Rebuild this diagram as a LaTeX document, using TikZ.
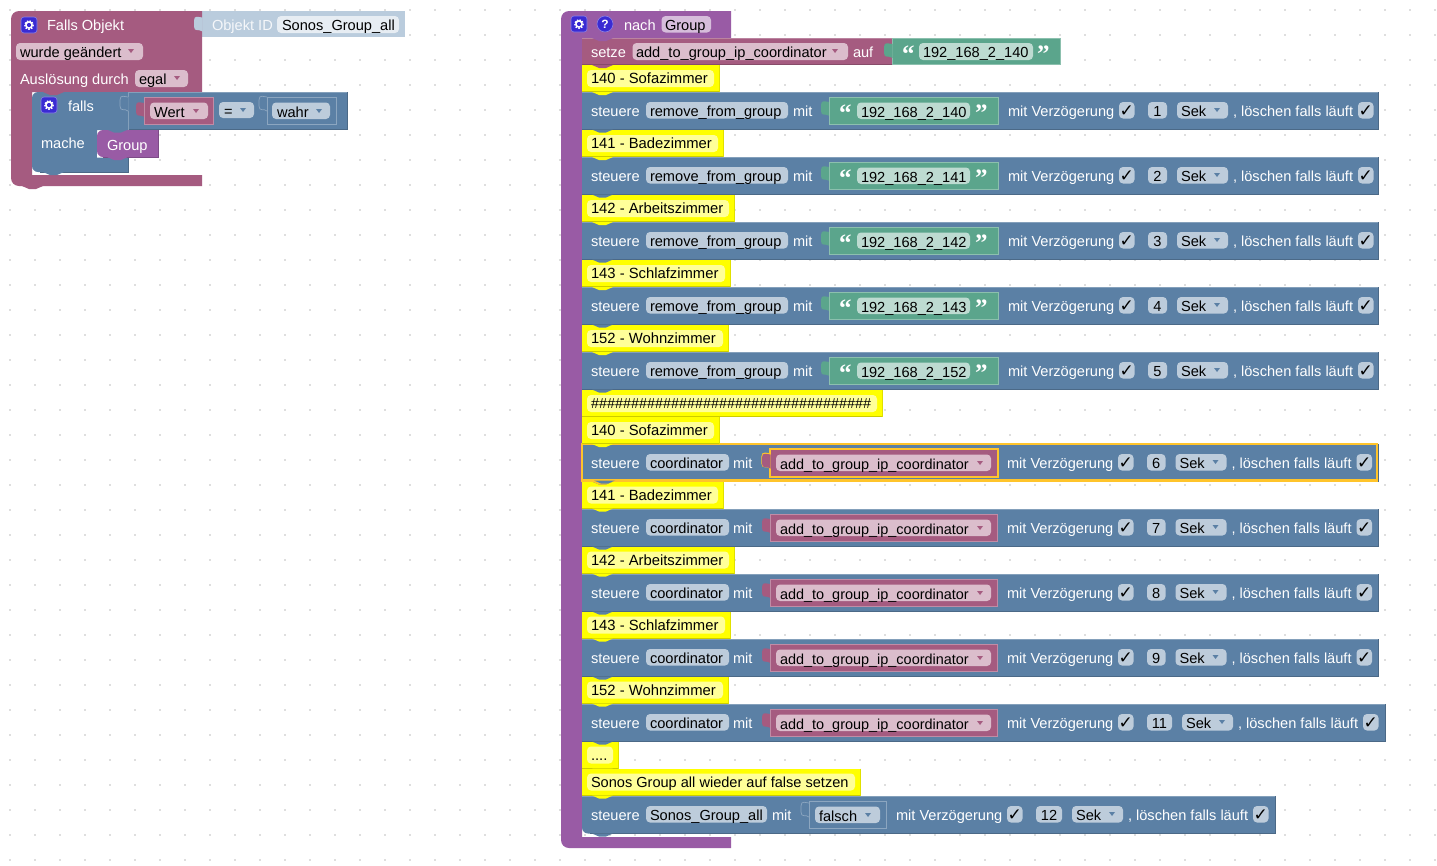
\documentclass[tikz,border=0pt]{standalone}
\usepackage{fontspec}
\setmainfont{Liberation Sans}
\newfontfamily\bkdeja{DejaVu Sans}
\newfontfamily\bkquo{Liberation Serif}
\definecolor{cTrig}{HTML}{A55B80}
\definecolor{cBlue}{HTML}{5B80A5}
\definecolor{cGreen}{HTML}{5BA58C}
\definecolor{cPurple}{HTML}{995BA5}
\definecolor{cYel}{HTML}{FFFF00}
\definecolor{fTrig}{HTML}{DBBDCC}
\definecolor{fBlue}{HTML}{BDCCDB}
\definecolor{fGreen}{HTML}{BDDBD1}
\definecolor{fPurple}{HTML}{D6BDDB}
\definecolor{fYel}{HTML}{FFFF99}
\definecolor{cObj}{HTML}{BACCDD}
\definecolor{cSel}{HTML}{FFC42B}
\definecolor{cIcon}{HTML}{3A2BD3}
\definecolor{cDot}{HTML}{BEBEBE}
\newcount\bkc
\tikzset{
  x=1pt,y=-1pt,
  txt/.style={anchor=base west,inner sep=0pt,outer sep=0pt,font=\fontsize{14.6}{16}\selectfont},
  lab/.style={txt,text=white},
  blk/.style={txt,text=black},
  fld/.style={rounded corners=4pt},
  edgeL/.style={line width=.7pt},
}
\newcommand{\bkLab}[3]{\global\advance\bkc 1 \node[lab] (n\the\bkc) at (#1,#2) {#3};}
\newcommand{\bkBlk}[3]{\global\advance\bkc 1 \node[blk] (n\the\bkc) at (#1,#2) {#3};}
\newcommand{\bkQuo}[3]{\global\advance\bkc 1 \node[lab,font=\bkquo\bfseries\fontsize{25}{25}\selectfont] (n\the\bkc) at (#1,#2) {#3};}
\newcommand{\bkFld}[5]{\fill[fld,#5] (#1,#2) rectangle (#3,#4);}
\newcommand{\bkArr}[3]{\fill[#3] (#1-3,#2-2) -- (#1+3,#2-2) -- (#1,#2+2) -- cycle;}
\newcommand{\bkRect}[5]{\fill[#5] (#1,#2) rectangle (#3,#4);
  \draw[edgeL,#5!75!white] (#1,#2+.3) -- (#3,#2+.3);
  \draw[edgeL,#5!82!black] (#1,#4-.3) -- (#3,#4-.3) -- (#3,#2);}
\newcommand{\bkVal}[5]{\fill[#5] (#1,#2) rectangle (#3,#4);
  \draw[edgeL,#5!70!white] (#1+.3,#2+.3) rectangle (#3-.3,#4-.3);}
\newcommand{\bkTb}[3]{\fill[#3] (#1,#2) .. controls (#1+3,#2) and (#1+4,#2+3) .. (#1+7,#2+3) -- (#1+14,#2+3) .. controls (#1+17,#2+3) and (#1+18,#2) .. (#1+21,#2) -- cycle;}
\newcommand{\bkPzPath}[2]{(#1+.5,#2+6) .. controls (#1-3,#2+6) and (#1-8,#2+3) .. (#1-8,#2+9) -- (#1-8,#2+15) .. controls (#1-8,#2+21) and (#1-3,#2+17) .. (#1+.5,#2+20) -- cycle}
\newcommand{\bkPz}[3]{\fill[#3] \bkPzPath{#1}{#2};}
\newcommand{\bkPzL}[3]{\fill[#3] \bkPzPath{#1}{#2}; \draw[edgeL,#3!70!white] (#1,#2+6) .. controls (#1-3,#2+6) and (#1-8,#2+3) .. (#1-8,#2+9) -- (#1-8,#2+15) .. controls (#1-8,#2+21) and (#1-3,#2+17) .. (#1,#2+20);}
\newcommand{\bkChk}[2]{\bkFld{#1}{#2}{#1+15.5}{#2+16.5}{fill=fBlue}\global\advance\bkc 1 \node[txt,text=black,anchor=base,font=\bkdeja\fontsize{17}{18}\selectfont] (n\the\bkc) at (#1+7.8,#2+14) {✓};}
\newcommand{\bkNum}[3]{\global\advance\bkc 1 \node[blk,anchor=base] (n\the\bkc) at (#1,#2) {#3};}
\newcommand{\bkTail}[4]{%
  \pgfmathsetmacro{\bkA}{#2+140}\pgfmathsetmacro{\bkB}{\bkA+#3}%
  \pgfmathsetmacro{\bkM}{\bkA+#3/2}%
  \pgfmathsetmacro{\bkC}{\bkB+10}\pgfmathsetmacro{\bkD}{\bkC+51}%
  \pgfmathsetmacro{\bkE}{\bkD+5}\pgfmathsetmacro{\bkF}{\bkD+130}%
  \bkLab{#2}{#1+24}{mit Verzögerung}
  \bkChk{#2+111}{#1+10}
  \bkFld{\bkA}{#1+10}{\bkB}{#1+26.5}{fill=fBlue}
  \bkNum{\bkM}{#1+24}{#4}
  \bkFld{\bkC}{#1+10}{\bkD}{#1+26.5}{fill=fBlue}
  \bkBlk{\bkC+4}{#1+24}{Sek}
  \bkArr{\bkC+40}{#1+18}{cBlue}
  \bkLab{\bkE}{#1+24}{, löschen falls läuft}
  \bkChk{\bkF}{#1+10}
}
\newcommand{\bkRowA}[3]{% y, number, ip
  \bkRect{582}{#1}{1378.6}{#1+37.5}{cBlue}
  \bkLab{591}{#1+24}{steuere}
  \bkFld{646}{#1+10}{788}{#1+26.5}{fill=fBlue}
  \bkBlk{650}{#1+24}{remove\_from\_group}
  \bkLab{793}{#1+24}{mit}
  \bkPz{829}{#1+4}{cGreen}
  \bkVal{829}{#1+5}{999}{#1+33}{cGreen}
  \bkQuo{839}{#1+29}{“}
  \bkFld{857}{#1+10.5}{970}{#1+27}{fill=fGreen}
  \bkBlk{861}{#1+25}{#3}
  \bkQuo{975}{#1+29}{”}
  \bkTail{#1}{1008}{19}{#2}
  \bkTb{592}{#1+37.5}{cBlue}
}
\newcommand{\bkAdd}{\fontsize{14.45}{16}\selectfont add\_to\_group\_ip\_coordinator}
\newcommand{\bkRowC}[4]{% y, number width, number, row end
  \bkRect{582}{#1}{#4}{#1+37.5}{cBlue}
  \bkLab{591}{#1+24}{steuere}
  \bkFld{646}{#1+10}{729}{#1+26.5}{fill=fBlue}
  \bkBlk{650}{#1+24}{coordinator}
  \bkLab{733}{#1+24}{mit}
  \bkPz{770}{#1+4}{cTrig}
  \bkVal{770}{#1+5}{998}{#1+33}{cTrig}
  \bkFld{776}{#1+10.5}{991}{#1+27}{fill=fTrig}
  \bkBlk{780}{#1+25}{\bkAdd}
  \bkArr{980}{#1+19}{cTrig}
  \bkTail{#1}{1007}{#2}{#3}
  \bkTb{592}{#1+37.5}{cBlue}
}
\newcommand{\bkYel}[3]{% y, x end, text
  \fill[cYel] (582,#1) rectangle (#2,#1+27);
  \draw[edgeL,cYel!80!black] (582,#1+26.8) -- (#2,#1+26.8);
  \draw[edgeL,cYel!88!black] (#2,#1) -- (#2,#1+27);
  \bkFld{587}{#1+5}{#2-5}{#1+22}{fill=fYel}
  \bkBlk{591}{#1+18.7}{\fontsize{14.8}{16}\selectfont #3}
  \bkTb{592}{#1+27}{cYel}
}
\newcommand{\bkGear}[2]{%
  \fill[cIcon,rounded corners=3pt] (#1,#2) rectangle (#1+16,#2+16);
  \draw[cIcon!60!white,line width=.6pt,rounded corners=3pt] (#1,#2) rectangle (#1+16,#2+16);
  \fill[white] (#1+8,#2+8) circle[radius=3.9];
  \draw[white,line width=1.3pt,dash pattern=on 1.5pt off 1.4pt] (#1+8,#2+8) circle[radius=4.3];
  \fill[cIcon] (#1+8,#2+8) circle[radius=2.1];
}
\begin{document}
\begin{tikzpicture}
\useasboundingbox (0,0) rectangle (1437,865);
\fill[white] (0,0) rectangle (1437,865);
% workspace dots
\foreach \i in {0,...,57}{\foreach \j in {0,...,34}{\fill[cDot] ({10+25*\i},{10+25*\j}) circle[radius=.9];}}

% ---------- left stack ----------
\fill[cObj] (202,11) rectangle (405,37);
\fill[cTrig] (202,11) [rounded corners=8pt] -- (11,11) -- (11,186) [sharp corners] -- (202,186) -- (202,175) -- (32,175) -- (32,92) -- (202,92) -- cycle;
\bkTb{22}{186}{cTrig}
\bkPz{202}{11.5}{cObj}
\bkLab{212}{30}{\textcolor{white!85!cObj}{Objekt ID}}
\bkFld{277}{16}{399}{33}{fill=white!65!cObj}
\bkBlk{282}{30}{Sonos\_Group\_all}
\bkGear{21}{17}
\bkLab{47}{30}{Falls Objekt}
\bkFld{16}{43}{143}{60}{fill=fTrig}
\bkBlk{20}{57.5}{wurde geändert}
\bkArr{131}{51}{cTrig}
\bkLab{20}{84}{Auslösung durch}
\bkFld{135}{70}{188}{87}{fill=fTrig}
\bkBlk{139}{84}{egal}
\bkArr{177}{78}{cTrig}

% falls block
\fill[cBlue] (128,92) [rounded corners=6pt] -- (32,92) -- (32,172) [sharp corners] -- (128,172) -- (128,157) -- (97,157) -- (97,130) -- (128,130) -- cycle;
\draw[edgeL,cBlue!82!black] (40,172) -- (128,172) -- (128,157);
\bkRect{128}{92}{347}{129.5}{cBlue}
\draw[edgeL,cBlue!75!white] (128,92) -- (128,129.5);
\bkTb{43}{172}{cBlue}
\bkTb{43}{92}{cTrig}
\bkGear{41}{97}
\bkLab{68}{111}{falls}
\bkLab{41}{148}{mache}
\bkPzL{128}{91}{cBlue}
\bkPz{144}{97}{cTrig}
\bkVal{144}{97}{214}{125}{cTrig}
\bkFld{150}{102.5}{208}{119}{fill=fTrig}
\bkBlk{154}{117}{Wert}
\bkArr{196}{111}{cTrig}
\bkFld{219}{102}{254}{118}{fill=fBlue}
\bkBlk{224}{116}{=}
\bkArr{243}{110}{cBlue}
\bkPzL{267}{91}{cBlue}
\bkVal{267}{97}{337}{125}{cBlue}
\bkFld{272}{102.5}{330}{119}{fill=fBlue}
\bkBlk{277}{117}{wahr}
\bkArr{319}{111}{cBlue}
% Group call
\fill[white] (97,149) -- (97,157.5) -- (104,157.5) -- cycle;
\fill[cPurple] (158,130) [rounded corners=6pt] -- (97,130) -- (97,157) [sharp corners] -- (158,157) -- cycle;
\draw[edgeL,cPurple!82!black] (103,157) -- (158,157) -- (158,130);
\bkTb{107}{157}{cPurple}
\bkTb{107}{129.5}{cBlue}
\bkLab{107}{150.5}{Group}

% ---------- right stack ----------
\fill[cPurple] (731,11) [rounded corners=8pt] -- (561,11) -- (561,848) [sharp corners] -- (731,848) -- (731,837) -- (582,837) -- (582,38) -- (731,38) -- cycle;
\bkGear{571}{16}
\fill[cIcon] (605,24) circle[radius=8];
\draw[cIcon!60!white,line width=.6pt] (605,24) circle[radius=8];
\global\advance\bkc 1
\node[lab,anchor=base,font=\bfseries\fontsize{12}{14}\selectfont] (n\the\bkc) at (605,28.5) {?};
\bkLab{624}{30}{nach}
\bkFld{661.5}{16}{711}{32.5}{fill=fPurple}
\bkBlk{665}{30}{Group}

% rows, from bottom to top so that each notch lies over the next row
\fill[cBlue] (1275,796) -- (582,796) [rounded corners=6pt] -- (582,833.5) [sharp corners] -- (1275,833.5) -- cycle;
\draw[edgeL,cBlue!75!white] (582,796.3) -- (1275,796.3);
\draw[edgeL,cBlue!82!black] (590,833.2) -- (1275,833.2) -- (1275,796);
\bkTb{592}{833.5}{cBlue}
\bkLab{591}{820}{steuere}
\bkFld{646}{806}{767}{822.5}{fill=fBlue}
\bkBlk{650}{820}{Sonos\_Group\_all}
\bkLab{772}{820}{mit}
\bkPzL{809}{797}{cBlue}
\bkVal{809}{801}{887}{829}{cBlue}
\bkFld{815}{806.5}{880}{823}{fill=fBlue}
\bkBlk{819}{821}{falsch}
\bkArr{868}{815}{cBlue}
\bkTail{796}{896}{26}{12}

\bkYel{768.5}{860}{\fontsize{14.57}{16}\selectfont Sonos Group all wieder auf false setzen}
\bkYel{741.5}{618}{....}
\bkRowC{704}{25}{11}{1385}
\bkYel{676.5}{728}{152 - Wohnzimmer}
\bkRowC{639}{18.5}{9}{1378}
\bkYel{611.5}{730}{143 - Schlafzimmer}
\bkRowC{574}{18.5}{8}{1378}
\bkYel{546.5}{734}{142 - Arbeitszimmer}
\bkRowC{509}{18.5}{7}{1378}
\bkYel{481.5}{723}{141 - Badezimmer}
\bkRowC{444}{18.5}{6}{1378}
% selected outline
\draw[cSel,line width=2.6pt] (582,444) rectangle (1377,480.5);
\draw[cSel,line width=1.4pt] \bkPzPath{770}{448};
\draw[cSel,line width=1.4pt] (770,449) rectangle (998,477);
\fill[cTrig] (771,450) rectangle (997,476);
\bkPz{770}{448.5}{cTrig}
\bkFld{776}{454.5}{991}{471}{fill=fTrig}
\bkBlk{780}{469}{\bkAdd}
\bkArr{980}{463}{cTrig}
\bkTb{592}{481.5}{cSel}
\bkTb{594}{480.5}{cBlue}
\bkYel{417}{719}{140 - Sofazimmer}
\bkYel{390}{882}{\fontsize{14.4}{16}\selectfont \#\#\#\#\#\#\#\#\#\#\#\#\#\#\#\#\#\#\#\#\#\#\#\#\#\#\#\#\#\#\#\#\#\#\#}
\bkRowA{352}{5}{192\_168\_2\_152}
\bkYel{325}{728}{152 - Wohnzimmer}
\bkRowA{287}{4}{192\_168\_2\_143}
\bkYel{260}{730}{143 - Schlafzimmer}
\bkRowA{222}{3}{192\_168\_2\_142}
\bkYel{195}{734}{142 - Arbeitszimmer}
\bkRowA{157}{2}{192\_168\_2\_141}
\bkYel{130}{723}{141 - Badezimmer}
\bkRowA{92}{1}{192\_168\_2\_140}
\bkYel{65}{719}{140 - Sofazimmer}
% setze row
\bkRect{582}{38}{892}{65}{cTrig}
\bkTb{592}{65}{cTrig}
\bkTb{592}{38}{cPurple}
\bkLab{591}{57}{setze}
\bkFld{632.5}{43}{848}{60}{fill=fTrig}
\bkBlk{636}{57}{add\_to\_group\_ip\_coordinator}
\bkArr{835}{51}{cTrig}
\bkLab{853}{57}{auf}
\bkVal{892}{38}{1060.5}{65}{cGreen}
\bkPz{892}{38}{cGreen}
\bkQuo{902}{62}{“}
\bkFld{919}{43}{1033}{60}{fill=fGreen}
\bkBlk{923}{57.5}{192\_168\_2\_140}
\bkQuo{1037}{62}{”}
\end{tikzpicture}
\end{document}
